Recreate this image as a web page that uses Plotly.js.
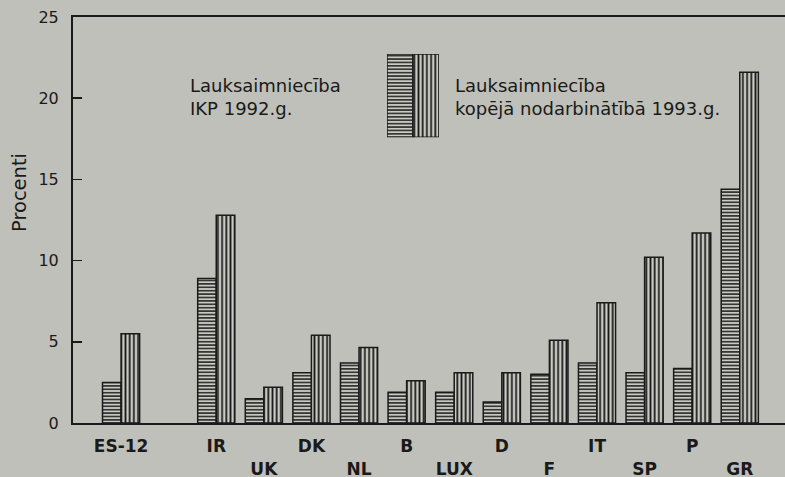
<!DOCTYPE html>
<html>
<head>
<meta charset="utf-8">
<script src="https://cdn.plot.ly/plotly-3.0.1.min.js"></script>
<style>
html,body{margin:0;padding:0;background:#bfc0b9;}
#chart{width:785px;height:477px;}
</style>
</head>
<body>
<div id="chart"></div>
<script>
// ---- data ----
const categories = ['ES-12','IR','UK','DK','NL','B','LUX','D','F','IT','SP','P','GR'];
const gdpShare1992 = [2.5, 8.9, 1.5, 3.1, 3.7, 1.9, 1.9, 1.3, 3.0, 3.7, 3.1, 3.35, 14.4];
const employmentShare1993 = [5.5, 12.8, 2.2, 5.4, 4.65, 2.6, 3.1, 3.1, 5.1, 7.4, 10.2, 11.7, 21.6];
const seriesNames = ['Lauksaimniecība<br>IKP 1992.g.', 'Lauksaimniecība<br>kopējā nodarbinātībā 1993.g.'];
const yTicks = [0, 5, 10, 15, 20, 25];
const yTitle = 'Procenti';

// slot positions (an empty slot after ES-12)
const xPos = categories.map((c, i) => i === 0 ? 0 : i + 1);
const tickText = categories.map((c, i) => (i >= 2 && i % 2 === 0) ? '<br>' + c : c);

const ink = '#1a1a1a';
const paper = '#bfc0b9';
const barBg = '#c9cac3';
const font = 'DejaVu Sans, Arial, sans-serif';

const hPattern = {shape: '-', fgcolor: ink, bgcolor: barBg, size: 3.4, solidity: 0.42, fillmode: 'replace'};
const vPattern = {shape: '|', fgcolor: ink, bgcolor: barBg, size: 4.2, solidity: 0.42, fillmode: 'replace'};
const bw = 0.39;

const traces = [
  {type: 'bar', x: xPos, y: gdpShare1992, width: bw, offset: -bw, name: seriesNames[0],
   marker: {color: ink, pattern: hPattern, line: {color: ink, width: 1.5}}, showlegend: false, hoverinfo: 'y'},
  {type: 'bar', x: xPos, y: employmentShare1993, width: bw, offset: 0, name: seriesNames[1],
   marker: {color: ink, pattern: vPattern, line: {color: ink, width: 1.5}}, showlegend: false, hoverinfo: 'y'},
  // legend swatches
  {type: 'bar', x: [0], y: [1], width: 1, offset: 0, xaxis: 'x2', yaxis: 'y2',
   marker: {color: ink, pattern: hPattern, line: {color: ink, width: 1.5}}, showlegend: false, hoverinfo: 'skip'},
  {type: 'bar', x: [1], y: [1], width: 1, offset: 0, xaxis: 'x2', yaxis: 'y2',
   marker: {color: ink, pattern: vPattern, line: {color: ink, width: 1.5}}, showlegend: false, hoverinfo: 'skip'}
];

const layout = {
  width: 785, height: 477,
  paper_bgcolor: paper, plot_bgcolor: paper,
  margin: {l: 73, r: 0, t: 17, b: 54},
  font: {family: font, color: ink},
  xaxis: {
    range: [-1.01, 13.95], showgrid: false, zeroline: false,
    showline: true, mirror: true, linecolor: ink, linewidth: 2,
    ticks: '', tickvals: xPos, ticktext: tickText,
    tickfont: {family: font, size: 17, color: ink, weight: 'bold'},
    ticklabelstandoff: 7
  },
  yaxis: {
    range: [0, 25], showgrid: false, zeroline: false,
    showline: true, linecolor: ink, linewidth: 2,
    ticks: 'inside', ticklen: 9, tickwidth: 1.5, tickcolor: ink,
    tickvals: yTicks, tickfont: {family: font, size: 16, color: ink},
    ticklabelstandoff: 9
  },
  xaxis2: {domain: [0.441, 0.514], anchor: 'y2', range: [0, 2], visible: false, fixedrange: true},
  yaxis2: {domain: [0.704, 0.909], anchor: 'x2', range: [0, 1], visible: false, fixedrange: true},
  annotations: [
    {text: seriesNames[0], x: 1.40, y: 20.1, xref: 'x', yref: 'y', xanchor: 'left', yanchor: 'middle',
     align: 'left', showarrow: false, font: {family: font, size: 18, color: ink}},
    {text: seriesNames[1], x: 6.98, y: 20.1, xref: 'x', yref: 'y', xanchor: 'left', yanchor: 'middle',
     align: 'left', showarrow: false, font: {family: font, size: 18, color: ink}},
    {text: yTitle, x: 0, xref: 'paper', xshift: -54, y: 14.16, yref: 'y', xanchor: 'center', yanchor: 'middle',
     textangle: -90, showarrow: false, font: {family: font, size: 19.5, color: ink}}
  ]
};

Plotly.newPlot('chart', traces, layout, {displayModeBar: false, staticPlot: true});
</script>
</body>
</html>
